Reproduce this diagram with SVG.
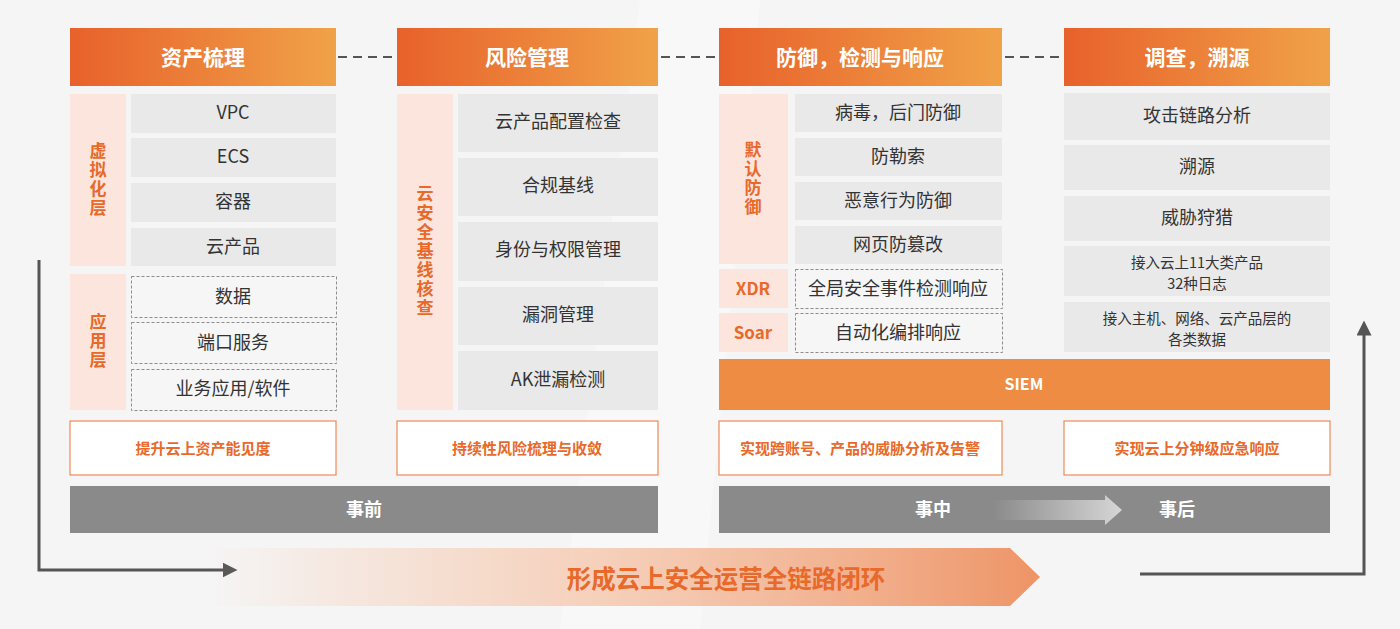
<svg xmlns="http://www.w3.org/2000/svg" width="1400" height="629" viewBox="0 0 1400 629">
<defs>
<linearGradient id="hdr" x1="0" y1="0" x2="1" y2="0">
<stop offset="0" stop-color="#e8612b"/>
<stop offset="1" stop-color="#f0a248"/>
</linearGradient>
<linearGradient id="banner" x1="0" y1="0" x2="1" y2="0">
<stop offset="0" stop-color="#f7c2a4" stop-opacity="0"/>
<stop offset="0.35" stop-color="#f6c6aa" stop-opacity="0.6"/>
<stop offset="1" stop-color="#ee9466"/>
</linearGradient>
<linearGradient id="inner" x1="0" y1="0" x2="1" y2="0">
<stop offset="0" stop-color="#d8d8d8" stop-opacity="0"/>
<stop offset="1" stop-color="#d6d6d6"/>
</linearGradient>
<marker id="ah" viewBox="0 0 10 10" refX="1" refY="5" markerWidth="15" markerHeight="15" orient="auto" markerUnits="userSpaceOnUse">
<path d="M0,0 L10,5 L0,10 Z" fill="#555555"/>
</marker>
<style>
text{font-family:"Noto Sans CJK SC","Noto Sans",sans-serif;text-anchor:middle;dominant-baseline:central}
.h{fill:url(#hdr)}
.ht{fill:#ffffff;font-size:21px;font-weight:700}
.lab{fill:#fbe5dc}
.lt{fill:#e8692a;font-size:17px;font-weight:700}
.vt{fill:#e8692a;font-size:17px;font-weight:700;writing-mode:vertical-rl;letter-spacing:2px}
.row{fill:#e9e9e9}
.drow{fill:#f6f6f6;stroke:#8c8c8c;stroke-width:1;stroke-dasharray:3 2}
.rt{fill:#333333;font-size:18px}
.st{fill:#333333;font-size:14.5px}
.gb{fill:#ffffff;stroke:#ee8b57;stroke-width:1.2}
.gt{fill:#e8692a;font-size:15px;font-weight:700}
.bar{fill:#8a8a8a}
.bt{fill:#ffffff;font-size:18px;font-weight:700}
.conn{stroke:#555555;stroke-width:3;fill:none}
.dash{stroke:#555555;stroke-width:2;stroke-dasharray:9 6;fill:none}
</style>
</defs>
<rect x="0" y="0" width="1400" height="629" fill="#f5f5f5"/>
<path d="M640,0 L760,0 L700,629 L560,629 Z" fill="#f8f8f8"/>

<g id="connectors">
<line class="dash" x1="338" y1="57" x2="396" y2="57"/>
<line class="dash" x1="661" y1="57" x2="718" y2="57"/>
<line class="dash" x1="1005" y1="57" x2="1063" y2="57"/>
<polyline class="conn" points="39,260 39,570 224,570" marker-end="url(#ah)"/>
<polyline class="conn" points="1140,574 1364,574 1364,334" marker-end="url(#ah)"/>
</g>

<g id="col-asset">
<rect class="h" x="70" y="28" width="266" height="58"/>
<text class="ht" x="203" y="56">资产梳理</text>
<rect class="lab" x="70" y="94" width="56" height="172"/>
<text class="vt" x="98" y="180">虚拟化层</text>
<rect class="row" x="131" y="94" width="205" height="39"/>
<text class="rt" x="233" y="111">VPC</text>
<rect class="row" x="131" y="138" width="205" height="39"/>
<text class="rt" x="233" y="155">ECS</text>
<rect class="row" x="131" y="183" width="205" height="39"/>
<text class="rt" x="233" y="200">容器</text>
<rect class="row" x="131" y="228" width="205" height="38"/>
<text class="rt" x="233" y="245">云产品</text>
<rect class="lab" x="70" y="274" width="56" height="136"/>
<text class="vt" x="98" y="342">应用层</text>
<rect class="drow" x="131.5" y="276.5" width="205" height="41"/>
<text class="rt" x="233" y="295">数据</text>
<rect class="drow" x="131.5" y="322.5" width="205" height="41"/>
<text class="rt" x="233" y="341">端口服务</text>
<rect class="drow" x="131.5" y="369.5" width="205" height="41"/>
<text class="rt" x="233" y="387">业务应用/软件</text>
<rect class="gb" x="70" y="421" width="266" height="54"/>
<text class="gt" x="203" y="447">提升云上资产能见度</text>
</g>

<g id="col-risk">
<rect class="h" x="397" y="28" width="261" height="58"/>
<text class="ht" x="527" y="56">风险管理</text>
<rect class="lab" x="397" y="94" width="56" height="316"/>
<text class="vt" x="425" y="252">云安全基线核查</text>
<rect class="row" x="458" y="94" width="200" height="58"/>
<text class="rt" x="558" y="120">云产品配置检查</text>
<rect class="row" x="458" y="158" width="200" height="58"/>
<text class="rt" x="558" y="184">合规基线</text>
<rect class="row" x="458" y="222" width="200" height="59"/>
<text class="rt" x="558" y="248">身份与权限管理</text>
<rect class="row" x="458" y="287" width="200" height="58"/>
<text class="rt" x="558" y="313">漏洞管理</text>
<rect class="row" x="458" y="351" width="200" height="59"/>
<text class="rt" x="558" y="378">AK泄漏检测</text>
<rect class="gb" x="397" y="421" width="261" height="54"/>
<text class="gt" x="527" y="447">持续性风险梳理与收敛</text>
</g>

<g id="bar-before">
<rect class="bar" x="70" y="486" width="588" height="47"/>
<text class="bt" x="364" y="508">事前</text>
</g>

<g id="col-defense">
<rect class="h" x="719" y="28" width="283" height="58"/>
<text class="ht" x="860" y="56">防御，检测与响应</text>
<rect class="lab" x="719" y="94" width="69" height="170"/>
<text class="vt" x="753" y="179">默认防御</text>
<rect class="row" x="795" y="94" width="207" height="38"/>
<text class="rt" x="898" y="111">病毒，后门防御</text>
<rect class="row" x="795" y="138" width="207" height="38"/>
<text class="rt" x="898" y="155">防勒索</text>
<rect class="row" x="795" y="182" width="207" height="38"/>
<text class="rt" x="898" y="199">恶意行为防御</text>
<rect class="row" x="795" y="226" width="207" height="38"/>
<text class="rt" x="898" y="243">网页防篡改</text>
<rect class="lab" x="719" y="269" width="69" height="39"/>
<text class="lt" x="753" y="287">XDR</text>
<rect class="drow" x="795.5" y="269.5" width="207" height="39"/>
<text class="rt" x="898" y="287">全局安全事件检测响应</text>
<rect class="lab" x="719" y="313" width="69" height="39"/>
<text class="lt" x="753" y="331">Soar</text>
<rect class="drow" x="795.5" y="313.5" width="207" height="39"/>
<text class="rt" x="898" y="331">自动化编排响应</text>
<rect class="gb" x="719" y="421" width="283" height="54"/>
<text class="gt" x="860" y="447">实现跨账号、产品的威胁分析及告警</text>
</g>

<g id="col-trace">
<rect class="h" x="1064" y="28" width="266" height="58"/>
<text class="ht" x="1197" y="56">调查，溯源</text>
<rect class="row" x="1064" y="93" width="266" height="47"/>
<text class="rt" x="1197" y="114">攻击链路分析</text>
<rect class="row" x="1064" y="145" width="266" height="45"/>
<text class="rt" x="1197" y="165">溯源</text>
<rect class="row" x="1064" y="196" width="266" height="45"/>
<text class="rt" x="1197" y="216">威胁狩猎</text>
<rect class="row" x="1064" y="246" width="266" height="50"/>
<text class="st" x="1197" y="261">接入云上11大类产品</text>
<text class="st" x="1197" y="282">32种日志</text>
<rect class="row" x="1064" y="302" width="266" height="50"/>
<text class="st" x="1197" y="317">接入主机、网络、云产品层的</text>
<text class="st" x="1197" y="338">各类数据</text>
<rect class="gb" x="1064" y="421" width="266" height="54"/>
<text class="gt" x="1197" y="447">实现云上分钟级应急响应</text>
</g>

<g id="siem">
<rect x="719" y="359" width="611" height="51" fill="#ef8c44"/>
<text x="1024" y="383" fill="#ffffff" font-size="16" font-weight="700">SIEM</text>
</g>

<g id="bar-during-after">
<rect class="bar" x="719" y="486" width="611" height="47"/>
<text class="bt" x="933" y="508">事中</text>
<path d="M993,500 L1105,500 L1105,495 L1122,510 L1105,525 L1105,520 L993,520 Z" fill="url(#inner)"/>
<text class="bt" x="1177" y="508">事后</text>
</g>

<g id="banner">
<path d="M210,548 L1010,548 L1040,577 L1010,606 L210,606 Z" fill="url(#banner)"/>
<text x="726" y="577" fill="#e8692a" font-size="24.5" font-weight="700">形成云上安全运营全链路闭环</text>
</g>
</svg>
